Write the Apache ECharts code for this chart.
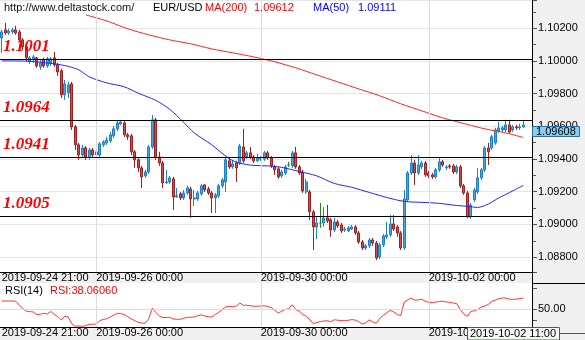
<!DOCTYPE html>
<html><head><meta charset="utf-8">
<script src="https://cdn.jsdelivr.net/npm/echarts@6/dist/echarts.min.js"></script>
<style>html,body{margin:0;padding:0;background:#fff}#c{width:585px;height:340px}</style>
</head><body><div id="c"></div>
<script>
// ---- time axis: hourly trading sessions [date, first hour, bar count]
const sessions = [['2019-09-24',21,3],['2019-09-25',0,24],['2019-09-26',0,24],['2019-09-27',0,23],
  ['2019-09-30',0,24],['2019-10-01',0,24],['2019-10-02',0,24],['2019-10-03',0,6]];
const xLabelTimes = ['2019-09-24 21:00','2019-09-26 00:00','2019-09-30 00:00','2019-10-02 00:00'];
const gridTimes = ['2019-09-26 00:00','2019-09-30 00:00','2019-10-02 00:00'];
const cursorTime = '2019-10-02 11:00';

// ---- EUR/USD hourly candles [open, close, low, high]
const ohlc = [
[1.10141,1.10178,1.10050,1.10190],[1.10190,1.10172,1.10160,1.10233],[1.10172,1.10184,1.10160,1.10197],
[1.10178,1.10190,1.10166,1.10203],[1.10190,1.10172,1.10160,1.10215],[1.10178,1.10129,1.10117,1.10190],
[1.10129,1.10086,1.10068,1.10141],[1.10086,1.10019,1.09995,1.10099],[1.09995,1.10019,1.09982,1.10031],
[1.10007,1.10025,1.09988,1.10037],[1.10019,1.09970,1.09958,1.10025],[1.09964,1.09988,1.09946,1.10007],
[1.10007,1.09970,1.09958,1.10019],[1.09970,1.10013,1.09958,1.10025],[1.09988,1.10013,1.09970,1.10025],
[1.10019,1.09976,1.09964,1.10056],[1.09976,1.09933,1.09909,1.09988],[1.09940,1.09793,1.09774,1.09952],
[1.09793,1.09860,1.09762,1.09884],[1.09805,1.09854,1.09774,1.09872],[1.09860,1.09597,1.09578,1.09872],
[1.09597,1.09487,1.09456,1.09609],[1.09487,1.09425,1.09395,1.09499],[1.09425,1.09468,1.09407,1.09487],
[1.09468,1.09413,1.09395,1.09480],[1.09413,1.09456,1.09395,1.09468],[1.09456,1.09425,1.09407,1.09468],
[1.09425,1.09444,1.09407,1.09456],[1.09425,1.09493,1.09413,1.09505],[1.09487,1.09505,1.09474,1.09517],
[1.09499,1.09517,1.09487,1.09536],[1.09511,1.09548,1.09499,1.09566],[1.09542,1.09585,1.09529,1.09603],
[1.09585,1.09621,1.09572,1.09640],[1.09615,1.09627,1.09609,1.09640],[1.09621,1.09548,1.09536,1.09633],
[1.09548,1.09536,1.09517,1.09560],[1.09542,1.09444,1.09425,1.09554],[1.09444,1.09395,1.09346,1.09456],
[1.09395,1.09346,1.09321,1.09407],[1.09346,1.09291,1.09223,1.09358],[1.09297,1.09321,1.09285,1.09334],
[1.09321,1.09474,1.09309,1.09487],[1.09474,1.09640,1.09462,1.09670],[1.09640,1.09413,1.09395,1.09652],
[1.09413,1.09376,1.09358,1.09444],[1.09376,1.09254,1.09223,1.09389],[1.09254,1.09260,1.09248,1.09334],
[1.09260,1.09285,1.09248,1.09297],[1.09279,1.09168,1.09089,1.09291],[1.09168,1.09175,1.09162,1.09223],
[1.09187,1.09162,1.09150,1.09199],[1.09162,1.09193,1.09150,1.09211],[1.09193,1.09223,1.09181,1.09236],
[1.09217,1.09156,1.09040,1.09230],[1.09156,1.09162,1.09113,1.09211],[1.09156,1.09193,1.09144,1.09205],
[1.09187,1.09236,1.09175,1.09248],[1.09242,1.09211,1.09199,1.09248],[1.09217,1.09193,1.09181,1.09230],
[1.09193,1.09162,1.09070,1.09205],[1.09162,1.09181,1.09070,1.09193],[1.09175,1.09236,1.09162,1.09248],
[1.09236,1.09272,1.09223,1.09285],[1.09260,1.09395,1.09199,1.09407],[1.09389,1.09352,1.09340,1.09413],
[1.09352,1.09370,1.09340,1.09395],[1.09376,1.09346,1.09260,1.09389],[1.09376,1.09480,1.09364,1.09493],
[1.09474,1.09389,1.09376,1.09585],[1.09413,1.09438,1.09401,1.09450],[1.09438,1.09413,1.09401,1.09474],
[1.09413,1.09389,1.09376,1.09425],[1.09389,1.09407,1.09383,1.09432],[1.09401,1.09407,1.09389,1.09419],
[1.09401,1.09438,1.09389,1.09450],[1.09438,1.09407,1.09395,1.09450],[1.09407,1.09358,1.09346,1.09419],
[1.09352,1.09334,1.09303,1.09364],[1.09340,1.09291,1.09279,1.09352],[1.09297,1.09321,1.09285,1.09334],
[1.09315,1.09352,1.09303,1.09364],[1.09364,1.09364,1.09352,1.09383],[1.09358,1.09438,1.09346,1.09450],
[1.09438,1.09352,1.09340,1.09474],[1.09352,1.09315,1.09303,1.09364],[1.09321,1.09205,1.09193,1.09334],
[1.09199,1.09260,1.09187,1.09279],[1.09199,1.09077,1.09028,1.09211],[1.09077,1.08985,1.08844,1.09089],
[1.08985,1.09009,1.08911,1.09046],[1.09009,1.09009,1.08979,1.09132],[1.09009,1.09040,1.08985,1.09107],
[1.09040,1.09021,1.09009,1.09119],[1.09028,1.08966,1.08924,1.09040],[1.08966,1.09015,1.08954,1.09040],
[1.09015,1.08991,1.08979,1.09028],[1.08997,1.08960,1.08948,1.09009],[1.08966,1.08972,1.08954,1.08985],
[1.08960,1.08979,1.08954,1.08991],[1.08972,1.08985,1.08966,1.08997],[1.08985,1.08948,1.08936,1.08997],
[1.08948,1.08893,1.08881,1.08960],[1.08893,1.08856,1.08844,1.08905],[1.08856,1.08869,1.08844,1.08881],
[1.08869,1.08905,1.08856,1.08917],[1.08905,1.08887,1.08869,1.08917],[1.08887,1.08795,1.08783,1.08899],
[1.08801,1.08875,1.08789,1.08887],[1.08875,1.08930,1.08862,1.08942],[1.08924,1.08936,1.08911,1.09015],
[1.08936,1.09003,1.08924,1.09058],[1.09003,1.08972,1.08960,1.09058],[1.08985,1.08948,1.08924,1.08997],
[1.08948,1.08856,1.08844,1.08960],[1.08856,1.09156,1.08844,1.09211],[1.09150,1.09315,1.09138,1.09327],
[1.09315,1.09376,1.09303,1.09425],[1.09376,1.09315,1.09242,1.09395],[1.09315,1.09364,1.09303,1.09425],
[1.09352,1.09376,1.09340,1.09389],[1.09376,1.09303,1.09291,1.09389],[1.09315,1.09297,1.09285,1.09327],
[1.09303,1.09291,1.09279,1.09315],[1.09291,1.09334,1.09279,1.09346],[1.09334,1.09383,1.09321,1.09407],
[1.09383,1.09364,1.09352,1.09395],[1.09346,1.09352,1.09334,1.09364],[1.09358,1.09352,1.09340,1.09370],
[1.09358,1.09321,1.09309,1.09370],[1.09321,1.09352,1.09309,1.09364],[1.09352,1.09236,1.09223,1.09364],
[1.09236,1.09193,1.09181,1.09248],[1.09193,1.09046,1.09040,1.09205],[1.09046,1.09119,1.09034,1.09132],
[1.09150,1.09211,1.09138,1.09223],[1.09199,1.09285,1.09187,1.09346],[1.09285,1.09334,1.09272,1.09346],
[1.09334,1.09468,1.09321,1.09480],[1.09468,1.09444,1.09364,1.09499],[1.09468,1.09536,1.09456,1.09548],
[1.09499,1.09578,1.09487,1.09591],[1.09572,1.09591,1.09560,1.09627],[1.09578,1.09591,1.09566,1.09603],
[1.09578,1.09609,1.09566,1.09640],[1.09609,1.09566,1.09554,1.09640],[1.09578,1.09597,1.09566,1.09609],
[1.09597,1.09591,1.09578,1.09609],[1.09591,1.09597,1.09578,1.09615],[1.09597,1.09608,1.09591,1.09640]
];

// ---- moving averages: [bar index, value]
const ma200Pts = [[24,1.10282],[30,1.10245],[36,1.10197],[42,1.10160],[48,1.10129],[54,1.10105],[60,1.10074],
  [66,1.10050],[72,1.10025],[78,1.09995],[84,1.09958],[90,1.09915],[96,1.09872],[102,1.09829],[108,1.09787],
  [114,1.09738],[120,1.09695],[126,1.09652],[133,1.09612],[138,1.09585],[144,1.09560],[149,1.09532]];
const ma50Pts = [[0,1.10001],[8,1.09998],[14,1.09985],[18,1.09972],[22,1.09946],[25,1.09903],[30,1.09866],
  [35,1.09842],[39,1.09803],[44,1.09759],[48,1.09704],[52,1.09624],[55,1.09560],[60,1.09487],[65,1.09402],
  [68,1.09375],[72,1.09361],[76,1.09358],[80,1.09349],[85,1.09324],[90,1.09297],[95,1.09251],[100,1.09227],
  [105,1.09196],[110,1.09165],[115,1.09141],[120,1.09135],[125,1.09129],[130,1.09116],[133,1.09111],
  [136,1.09104],[139,1.09125],[142,1.09162],[146,1.09205],[149,1.09239]];

// ---- RSI(14) per bar
const rsi = [63.1,63.1,63.1,63.1,62.6,56.6,50.8,46.4,45.7,45.1,
 41.0,41.3,43.1,41.8,45.9,41.3,37.5,32.0,38.2,36.9,
 25.9,21.6,22.4,21.6,22.9,24.9,24.9,25.4,31.1,32.8,
 34.1,36.9,40.0,42.9,42.6,40.8,37.4,33.9,30.7,28.2,
 26.9,26.7,34.4,51.6,44.3,38.7,36.0,36.1,36.4,33.9,
 33.1,33.1,34.9,36.4,36.4,37.0,39.2,40.2,38.5,37.2,
 36.9,41.0,44.6,49.2,53.6,54.1,53.6,54.9,59.8,56.1,
 56.1,55.4,54.4,54.6,54.9,55.2,54.1,52.1,47.9,43.4,
 46.4,49.5,50.2,56.9,49.2,46.4,41.0,38.4,32.3,26.1,
 27.9,29.3,30.3,30.8,29.2,32.3,31.6,31.0,31.0,31.5,
 32.6,31.8,29.3,25.4,27.5,32.0,28.7,26.5,34.8,39.7,
 43.9,47.7,45.2,41.0,39.3,61.5,65.0,67.9,64.6,65.1,
 65.9,62.8,61.0,60.3,61.3,62.3,62.8,61.6,60.8,59.8,
 58.7,49.2,42.1,38.0606,45.9,47.0,49.2,53.0,54.9,57.5,
 62.6,64.4,66.9,68.0,68.0,66.1,65.9,66.1,67.1,67.9];

// ---- support / resistance levels
const levels = [1.1001, 1.0964, 1.0941, 1.0905];
const priceRange = [1.08709, 1.10373];
const rsiRange = [20.5, 92.6];
const rsiLabelValues = [50];
const rsiTickValues = [32, 50, 84];

const categories = [];
sessions.forEach(([d, h0, n]) => { for (let k = 0; k < n; k++) categories.push(d + ' ' + String(h0 + k).padStart(2, '0') + ':00'); });
const labelIdx = xLabelTimes.map(t => categories.indexOf(t));
const cursorIdx = categories.indexOf(cursorTime);
const valAt = (pts, i) => { const p = pts.find(q => q[0] === i); return p ? p[1] : null; };

const FONT = '"Liberation Sans", Arial, sans-serif';
const chart = echarts.init(document.getElementById('c'));

const xAxisCommon = {
  type: 'category', data: categories, boundaryGap: true,
  axisLine: { show: true, onZero: false, lineStyle: { color: '#000', width: 1 } },
  axisTick: { show: false },
  axisLabel: { interval: (i) => labelIdx.includes(i), align: 'left', margin: 0, fontSize: 11, color: '#000', fontFamily: FONT },
  splitLine: { show: false }
};
const vGrid = (xi, yi) => ({
  type: 'line', xAxisIndex: xi, yAxisIndex: yi, data: [], z: 1, silent: true,
  markLine: { silent: true, symbol: 'none', animation: false, label: { show: false },
    lineStyle: { color: '#dcdcdc', width: 1, type: 'solid' }, data: gridTimes.map(t => ({ xAxis: t })) }
});

chart.setOption({
  animation: false,
  backgroundColor: '#ffffff',
  textStyle: { fontFamily: FONT },
  grid: [
    { left: 0, top: 0, width: 532, height: 272, containLabel: false, outerBoundsMode: 'none' },
    { left: 0, top: 283, width: 532, height: 44, containLabel: false, outerBoundsMode: 'none' }
  ],
  xAxis: [Object.assign({ gridIndex: 0 }, xAxisCommon), Object.assign({ gridIndex: 1 }, xAxisCommon)],
  yAxis: [
    { type: 'value', gridIndex: 0, position: 'right', min: priceRange[0], max: priceRange[1], splitNumber: 8,
      axisLine: { show: true, lineStyle: { color: '#000' } },
      axisTick: { show: true, length: 5, lineStyle: { color: '#555' } },
      minorTick: { show: true, splitNumber: 2, length: 4, lineStyle: { color: '#555' } },
      axisLabel: { margin: 6, fontSize: 11, color: '#000', fontFamily: FONT, showMinLabel: false, showMaxLabel: false,
        formatter: v => v.toFixed(5) },
      splitLine: { show: true, lineStyle: { color: '#e6e6e6' } } },
    { type: 'value', gridIndex: 1, position: 'right', min: rsiRange[0], max: rsiRange[1],
      axisLine: { show: true, lineStyle: { color: '#000' } },
      axisTick: { show: true, length: 5, customValues: rsiTickValues, lineStyle: { color: '#555' } },
      axisLabel: { margin: 6, fontSize: 11, color: '#000', fontFamily: FONT, customValues: rsiLabelValues,
        showMinLabel: false, showMaxLabel: false, formatter: v => v.toFixed(2) },
      splitLine: { show: false } }
  ],
  series: [
    vGrid(0, 0),
    vGrid(1, 1),
    { type: 'candlestick', name: 'EUR/USD', xAxisIndex: 0, yAxisIndex: 0, data: ohlc, barWidth: 2.5, z: 2,
      itemStyle: { color: '#45a6e0', color0: '#cc4e4e', borderColor: '#1f7fc4', borderColor0: '#9c2020',
        borderColorDoji: '#1c8c1c', borderWidth: 1 },
      markLine: { silent: true, symbol: 'none', animation: false, precision: 4,
        lineStyle: { color: '#000', width: 1, type: 'solid' },
        label: { show: true, position: 'insideStartTop', distance: [3, 4], color: '#ff0000',
          fontFamily: '"Liberation Serif", serif', fontStyle: 'italic', fontWeight: 'bold', fontSize: 17,
          formatter: p => Number(p.value).toFixed(4) },
        data: levels.map(v => ({ yAxis: v })) } },
    { type: 'line', name: 'MA(200)', xAxisIndex: 0, yAxisIndex: 0, data: ma200Pts, showSymbol: false, smooth: 0.3,
      z: 3, lineStyle: { color: '#ff2222', width: 1 } },
    { type: 'line', name: 'MA(50)', xAxisIndex: 0, yAxisIndex: 0, data: ma50Pts, showSymbol: false, smooth: 0.3,
      z: 3, lineStyle: { color: '#2424ff', width: 1 } },
    { type: 'line', name: 'RSI(14)', xAxisIndex: 1, yAxisIndex: 1, data: rsi, showSymbol: false, z: 3,
      lineStyle: { color: '#ff3333', width: 1 },
      markLine: { silent: true, symbol: 'none', animation: false, label: { show: false },
        lineStyle: { color: '#dcdcdc', width: 1, type: 'solid' }, data: [{ yAxis: 50 }] } }
  ]
});

const last = ohlc.length - 1;
const lastClose = ohlc[last][1];
const py = chart.convertToPixel({ gridIndex: 0 }, [last, lastClose])[1];
const cx = chart.convertToPixel({ gridIndex: 0 }, [cursorIdx, lastClose])[0];
const txt = (x, y, text, fill, extra) => Object.assign({ type: 'text', z: 60, x, y,
  style: { text, fill, font: '11px ' + FONT, verticalAlign: 'middle' } }, extra || {});

chart.setOption({
  graphic: [
    { type: 'rect', z: -10, silent: true, shape: { x: 532, y: 0, width: 53, height: 340 }, style: { fill: '#f0f0f0' } },
    { type: 'rect', z: -10, silent: true, shape: { x: 0, y: 273, width: 532, height: 10 }, style: { fill: '#f0f0f0' } },
    { type: 'rect', z: -10, silent: true, shape: { x: 0, y: 328, width: 532, height: 12 }, style: { fill: '#f0f0f0' } },
    { type: 'line', z: 50, silent: true, shape: { x1: 532.5, y1: 0, x2: 532.5, y2: 334 }, style: { stroke: '#000', lineWidth: 1 } },
    { type: 'line', z: 50, silent: true, shape: { x1: 532, y1: 283.5, x2: 585, y2: 283.5 }, style: { stroke: '#000', lineWidth: 1 } },
    txt(4, 8, 'http://www.deltastock.com/', '#111'),
    txt(153, 8, 'EUR/USD', '#000'),
    txt(205, 8, 'MA(200)', '#ff0000'),
    txt(254, 8, valAt(ma200Pts, cursorIdx).toFixed(5), '#ff0000'),
    txt(313, 8, 'MA(50)', '#0000ff'),
    txt(358, 8, valAt(ma50Pts, cursorIdx).toFixed(5), '#0000ff'),
    txt(5, 291, 'RSI(14)', '#000'),
    txt(50, 291, 'RSI:' + rsi[cursorIdx].toFixed(5), '#ff0000'),
    { type: 'rect', z: 70, silent: true, shape: { x: 532.5, y: Math.round(py) + 1.5, width: 47, height: 10 },
      style: { fill: '#87cdf0', stroke: '#2f6f99', lineWidth: 1 } },
    txt(536, Math.round(py) + 7, lastClose.toFixed(5), '#000', { z: 71 }),
    { type: 'rect', z: 70, silent: true, shape: { x: Math.round(cx) + 0.5, y: 327.5, width: 92, height: 12.5 },
      style: { fill: '#f6f6f6', stroke: '#227a22', lineWidth: 1 } },
    txt(Math.round(cx) + 3, 334, categories[cursorIdx], '#000', { z: 71 }),
    { type: 'line', z: 70, silent: true, shape: { x1: Math.round(cx) + 92.5, y1: 333.5, x2: 585, y2: 333.5 },
      style: { stroke: '#227a22', lineWidth: 1 } }
  ]
});
</script>
</body></html>
